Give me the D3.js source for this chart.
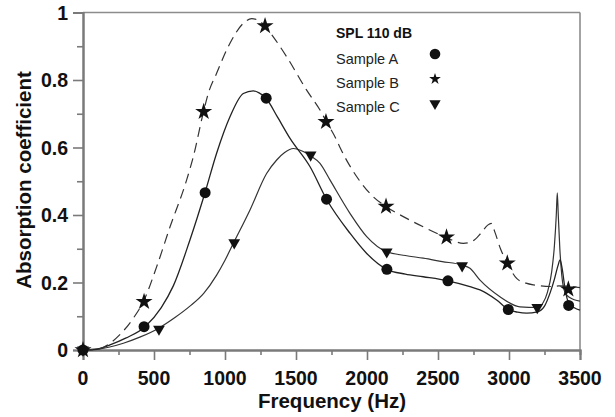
<!DOCTYPE html>
<html>
<head>
<meta charset="utf-8">
<script src="https://cdn.jsdelivr.net/npm/d3@7"></script>
<style>
  html, body { margin: 0; padding: 0; background: #fff; }
  svg text { font-family: Arial, "Liberation Sans", Helvetica, sans-serif; }
</style>
</head>
<body>
<svg id="chart" width="615" height="417"></svg>
<script>
// ---- Data ----
const curveAFreq = [0,100,190,300,437,550,636,753,859,941,1035,1129,1199,1240,1289,1370,1458,1599,1716,1880,1998,2139,2270,2396,2568,2725,2796,2913,2995,3060,3124,3200,3250,3290,3320,3345,3360,3375,3395,3420,3460,3500];
const curveAVal  = [0,0.003,0.015,0.035,0.069,0.125,0.19,0.326,0.466,0.583,0.691,0.760,0.768,0.762,0.746,0.69,0.627,0.543,0.446,0.346,0.286,0.239,0.225,0.217,0.205,0.188,0.178,0.148,0.12,0.112,0.109,0.113,0.13,0.17,0.21,0.25,0.267,0.24,0.18,0.14,0.125,0.118];

const curveBFreq = [0,100,190,270,354,425,519,613,730,777,847,882,941,1035,1129,1188,1240,1282,1340,1434,1575,1669,1711,1786,1810,1927,2044,2134,2279,2396,2556,2678,2737,2800,2850,2875,2900,2940,2988,3054,3120,3171,3312,3350,3500];
const curveBVal  = [0,0.002,0.02,0.05,0.094,0.143,0.247,0.365,0.504,0.573,0.703,0.76,0.82,0.909,0.968,0.982,0.975,0.96,0.928,0.869,0.77,0.711,0.679,0.622,0.6,0.514,0.454,0.425,0.39,0.365,0.334,0.316,0.321,0.345,0.37,0.375,0.35,0.30,0.257,0.212,0.198,0.193,0.188,0.19,0.185];

const curveCFreq = [0,100,284,400,530,650,753,850,941,1000,1059,1176,1293,1364,1420,1481,1551,1603,1669,1739,1880,1998,2139,2270,2396,2530,2667,2725,2796,2936,3077,3199,3240,3270,3300,3320,3333,3340,3347,3358,3372,3395,3430,3500];
const curveCVal  = [0,0.002,0.02,0.038,0.064,0.097,0.13,0.168,0.222,0.266,0.316,0.415,0.523,0.563,0.585,0.597,0.588,0.575,0.553,0.504,0.405,0.336,0.291,0.28,0.272,0.262,0.252,0.242,0.207,0.158,0.128,0.126,0.14,0.17,0.23,0.31,0.40,0.466,0.40,0.30,0.22,0.17,0.155,0.145];

const markAFreq = [0,430,860,1290,1715,2140,2570,2995,3420];
const markAVal  = [0,0.069,0.466,0.746,0.447,0.239,0.205,0.12,0.132];
const markBFreq = [0,430,850,1282,1711,2134,2560,2988,3418];
const markBVal  = [0,0.143,0.706,0.96,0.676,0.425,0.334,0.257,0.18];
const markCFreq = [0,535,1065,1603,2139,2670,3199];
const markCVal  = [0,0.062,0.318,0.578,0.291,0.25,0.126];

const xTicks = [0,500,1000,1500,2000,2500,3000,3500];
const xMinor = [250,750,1250,1750,2250,2750,3250];
const yTicks = [0,0.2,0.4,0.6,0.8,1];
const yTickLabels = ["0","0.2","0.4","0.6","0.8","1"];
const yMinor = [0.1,0.3,0.5,0.7,0.9];

const legendTitle = "SPL 110 dB";
const seriesNames = ["Sample A","Sample B","Sample C"];

// ---- Layout ----
const svg = d3.select("#chart");
const x = d3.scaleLinear().domain([0,3500]).range([83,580]);
const y = d3.scaleLinear().domain([0,1]).range([350,12.5]);
const axisColor = "#7a7a7a";
const ink = "#111";

// frame (top & right)
svg.append("line").attr("x1",x(0)).attr("x2",x(3500)).attr("y1",y(1)).attr("y2",y(1))
  .attr("stroke","#8c8c8c").attr("stroke-width",1.6);
svg.append("line").attr("x1",x(3500)).attr("x2",x(3500)).attr("y1",y(1)).attr("y2",y(0))
  .attr("stroke","#8c8c8c").attr("stroke-width",1.6);

// x axis
const gx = svg.append("g").attr("transform",`translate(0,${y(0)})`);
gx.call(d3.axisBottom(x).tickValues(xTicks).tickSize(10).tickFormat(""));
gx.append("g").call(d3.axisBottom(x).tickValues(xMinor).tickSize(5).tickFormat(""));
gx.selectAll("path.domain").attr("stroke",axisColor).attr("stroke-width",2);
gx.selectAll(".tick line").attr("stroke",axisColor).attr("stroke-width",1.6);
svg.append("g").selectAll("text").data(xTicks).join("text")
  .attr("x",d=>x(d)).attr("y",385).attr("text-anchor","middle")
  .attr("font-size","19.5px").attr("font-weight","bold").attr("fill",ink)
  .text(d=>d3.format("d")(d));

// y axis
const gy = svg.append("g").attr("transform",`translate(${x(0)},0)`);
gy.call(d3.axisLeft(y).tickValues(yTicks).tickSize(10).tickFormat(""));
gy.append("g").call(d3.axisLeft(y).tickValues(yMinor).tickSize(6).tickFormat(""));
gy.selectAll("path.domain").attr("stroke",axisColor).attr("stroke-width",2);
gy.selectAll(".tick line").attr("stroke",axisColor).attr("stroke-width",1.6);
svg.append("g").selectAll("text").data(yTicks).join("text")
  .attr("x",68).attr("y",d=>y(d)).attr("dy","0.36em").attr("text-anchor","end")
  .attr("font-size","19.5px").attr("font-weight","bold").attr("fill",ink)
  .text((d,i)=>yTickLabels[i]);

// axis titles
svg.append("text").attr("x",332).attr("y",408).attr("text-anchor","middle")
  .attr("font-size","20.5px").attr("font-weight","bold").attr("fill",ink)
  .text("Frequency (Hz)");
svg.append("text").attr("transform","translate(31,180) rotate(-90)").attr("text-anchor","middle")
  .attr("font-size","20.5px").attr("font-weight","bold").attr("fill",ink)
  .text("Absorption coefficient");

// curves
const line = d3.line().x(d=>x(d[0])).y(d=>y(d[1])).curve(d3.curveMonotoneX);
const zipD = (f,v)=>f.map((d,i)=>[d,v[i]]);
svg.append("path").datum(zipD(curveCFreq,curveCVal)).attr("d",line)
  .attr("fill","none").attr("stroke","#333").attr("stroke-width",1.2);
svg.append("path").datum(zipD(curveAFreq,curveAVal)).attr("d",line)
  .attr("fill","none").attr("stroke","#222").attr("stroke-width",1.3);
svg.append("path").datum(zipD(curveBFreq,curveBVal)).attr("d",line)
  .attr("fill","none").attr("stroke","#333").attr("stroke-width",1.2)
  .attr("stroke-dasharray","10,6");

// markers
const starPath = d3.symbol().type(d3.symbolStar).size(90)();
const starSmall = d3.symbol().type(d3.symbolStar).size(42)();
const triPath = d3.symbol().type(d3.symbolTriangle).size(60)();
const triSmall = d3.symbol().type(d3.symbolTriangle).size(55)();

svg.append("g").selectAll("path").data(zipD(markCFreq,markCVal)).join("path")
  .attr("d",triPath).attr("transform",d=>`translate(${x(d[0])},${y(d[1])}) rotate(180)`).attr("fill",ink);
svg.append("g").selectAll("circle").data(zipD(markAFreq,markAVal)).join("circle")
  .attr("cx",d=>x(d[0])).attr("cy",d=>y(d[1])).attr("r",5.5).attr("fill",ink);
svg.append("g").selectAll("path").data(zipD(markBFreq,markBVal)).join("path")
  .attr("d",starPath).attr("transform",d=>`translate(${x(d[0])},${y(d[1])})`).attr("fill",ink);

// legend
const lg = svg.append("g");
lg.append("text").attr("x",336).attr("y",37.5).attr("font-size","14px").attr("font-weight","bold")
  .attr("fill",ink).text(legendTitle);
const legendY = [63.5,87.5,111.5];
lg.selectAll("text.s").data(seriesNames).join("text").attr("class","s")
  .attr("x",336).attr("y",(d,i)=>legendY[i]).attr("font-size","14.5px").attr("fill","#222").text(d=>d);
lg.append("circle").attr("cx",435).attr("cy",54).attr("r",5.3).attr("fill",ink);
lg.append("path").attr("d",starSmall).attr("transform","translate(435,79)").attr("fill",ink);
lg.append("path").attr("d",triSmall).attr("transform","translate(435,103.5) rotate(180)").attr("fill",ink);
</script>
</body>
</html>
